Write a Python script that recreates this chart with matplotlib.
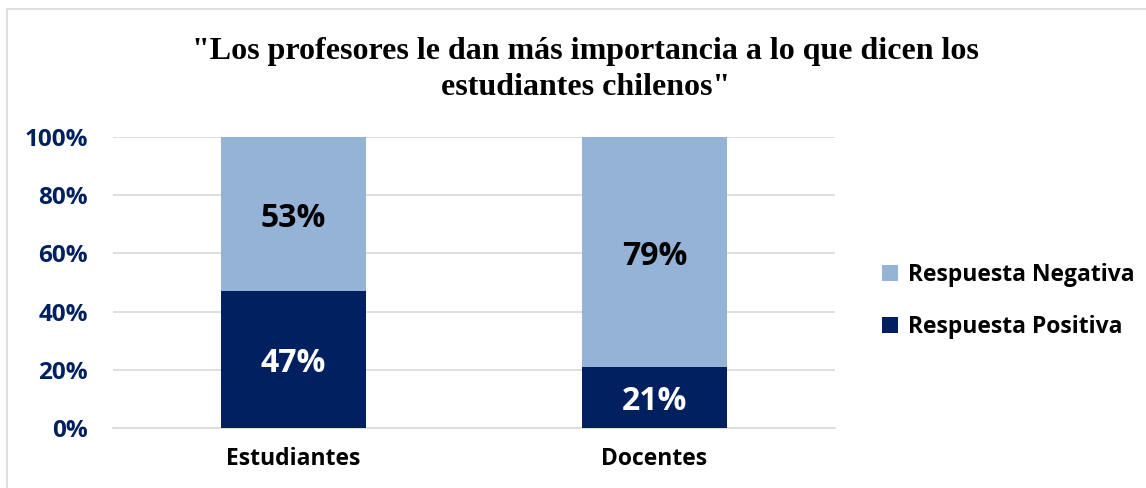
import matplotlib.pyplot as plt
from matplotlib.patches import Rectangle

categories = ["Estudiantes", "Docentes"]
positiva = [47, 21]
negativa = [53, 79]
yticks = [0, 20, 40, 60, 80, 100]

dark = "#002060"
light = "#95B3D7"
sans = ["Open Sans", "DejaVu Sans"]

fig = plt.figure(figsize=(11.46, 4.88), dpi=100)
ax = fig.add_axes([0.0986, 0.123, 0.63, 0.5963])

x = list(range(len(categories)))
b1 = ax.bar(x, positiva, width=0.4, color=dark, label="Respuesta Positiva", zorder=3)
b2 = ax.bar(x, negativa, width=0.4, bottom=positiva, color=light,
            label="Respuesta Negativa", zorder=3)

# value labels inside the bars
for i in x:
    ax.annotate(f"{positiva[i]}%", (i, positiva[i] / 2), xytext=(0, -3),
                textcoords="offset points", ha="center", va="center",
                color="white", fontsize=23, fontweight="bold", family=sans, zorder=4)
    ax.annotate(f"{negativa[i]}%", (i, positiva[i] + negativa[i] / 2), xytext=(0, -3),
                textcoords="offset points", ha="center", va="center",
                color="black", fontsize=23, fontweight="bold", family=sans, zorder=4)

ax.set_xlim(-0.5, 1.5)
ax.set_ylim(0, 100)
ax.set_yticks(yticks)
ax.set_yticklabels([f"{t}%" for t in yticks], color=dark, fontsize=17.5,
                   fontweight="bold", family=sans)
ax.set_xticks(x)
ax.set_xticklabels(categories, fontsize=16.5, fontweight="bold", family=sans)
ax.tick_params(length=0)
ax.tick_params(axis="y", pad=18)
ax.tick_params(axis="x", pad=14)
ax.grid(axis="y", color="#D9D9D9", linewidth=1.2, zorder=0)
for s in ["top", "right", "left"]:
    ax.spines[s].set_visible(False)
ax.spines["bottom"].set_color("#D9D9D9")
ax.spines["bottom"].set_linewidth(1.2)

handles = [b2, b1]
fig.legend(handles, [h.get_label() for h in handles], loc="center left",
           bbox_to_anchor=(0.752, 0.383), frameon=False,
           prop={"family": sans, "weight": "bold", "size": 16.5},
           handlelength=0.7, handleheight=0.7, handletextpad=0.4,
           labelspacing=1.25)

fig.text(0.511, 0.858, "\"Los profesores le dan más importancia a lo que dicen los\nestudiantes chilenos\"",
         ha="center", va="center", fontsize=23, fontweight="bold",
         family=["Liberation Serif", "DejaVu Serif"], linespacing=1.3)

fig.patches.append(Rectangle((0.006, -0.01), 1.0, 0.992, transform=fig.transFigure,
                             fill=False, edgecolor="#D9D9D9", linewidth=1.2))

fig.savefig("out.png", dpi=100)
